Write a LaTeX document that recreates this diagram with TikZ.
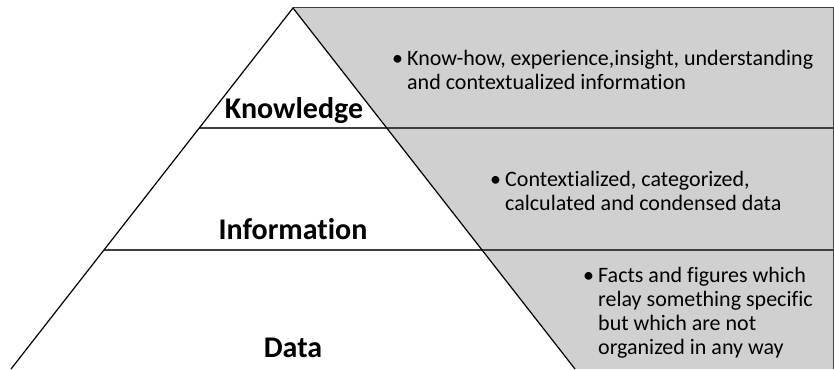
\documentclass[tikz,border=0pt]{standalone}
\usepackage{fontspec}
\setmainfont{Carlito}[Ligatures=NoCommon]
\usepackage{xcolor}
\definecolor{panelgray}{RGB}{208,208,208}
\definecolor{rulegray}{RGB}{64,64,64}
\newcommand{\bul}{\makebox[15pt][l]{\textbullet}}
\newcommand{\ind}{\hspace*{15pt}}

\begin{document}
\begin{tikzpicture}[x=1pt, y=-1pt]
		\tikzstyle{level} = [inner sep=0pt, anchor=base, font=\fontsize{30}{32}\selectfont\bfseries]
		\tikzstyle{note} = [inner sep=0pt, anchor=north west, align=left, font=\fontsize{22}{24}\selectfont]
		\tikzstyle{side} = [draw, black, line width=1.2pt]
		\tikzstyle{divider} = [draw, rulegray, line width=1.8pt]
		\useasboundingbox (0,0) rectangle (834,369);
		\coordinate (apex) at (293,8);
		\coordinate (baseL) at (11,369);
		\coordinate (baseR) at (575,369);
		\coordinate (cornerTR) at (833,8);
		\coordinate (cornerBR) at (833,369);
		% shaded panel on the right
		\fill [panelgray] (apex) -- (cornerTR) -- (cornerBR) -- (baseR) -- cycle;
		\draw [rulegray, line width=1pt] (apex) -- (cornerTR) -- (cornerBR);
		% level dividers
		\path [divider] (199,128) -- (833,128);
		\path [divider] (104,250) -- (833,250);
		% pyramid sides
		\path [side] (baseL) -- (apex) -- (baseR);
		% level names
		\node [level] at (294,118) (know) {Knowledge};
		\node [level] at (293,239) (info) {Information};
		\node [level] at (293,357) (data) {Data};
		% descriptions
		\node [note] at (392,50) (ktext) {\bul Know-how, experience,insight, understanding\\\ind and contextualized information};
		\node [note] at (490,171) (itext) {\bul Contextialized, categorized,\\\ind calculated and condensed data};
		\node [note] at (583,267) (dtext) {\bul Facts and figures which\\\ind relay something specific\\\ind but which are not\\\ind organized in any way};
	\end{tikzpicture}
\end{document}
